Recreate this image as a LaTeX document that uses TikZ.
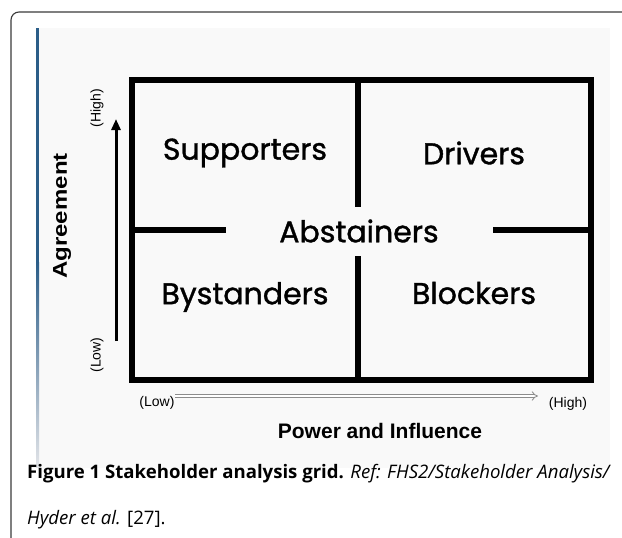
\documentclass[tikz,border=0pt]{standalone}
\usepackage{fontspec}
\setmainfont{Open Sans}
\newfontfamily\arialfont{Liberation Sans}
\newfontfamily\comicfont{Poppins}[FakeBold=1.2]
\usetikzlibrary{arrows.meta}
\definecolor{framegray}{HTML}{3A3A3A}
\definecolor{paperbg}{HTML}{F9F9F9}
\definecolor{barblue}{HTML}{2B5D88}
\definecolor{fadegray}{HTML}{E2E4E8}
\definecolor{arrowgray}{HTML}{8C8C8C}
\newcommand{\gridlabel}[4]{\node[font=\comicfont\fontsize{30}{30}\selectfont,inner sep=0pt] (#1) at ( #2 , #3 ) {#4};}
\newcommand{\axislabel}[5]{\node[font=\arialfont\fontsize{14}{14}\selectfont,rotate=#4,inner sep=0pt] (#1) at ( #2 , #3 ) {#5};}

\begin{document}
\begin{tikzpicture}[x=1pt,y=-1pt]
\useasboundingbox (0,0) rectangle (622,538);
% page frame and figure paper
\draw[framegray,line width=1.1pt,rounded corners=8pt] (11,540) -- (11,12) -- (624,12);
\fill[paperbg] (37,28) rectangle (610,468);
\fill[barblue] (36,28) rectangle (39,262);
\shade[top color=barblue,bottom color=fadegray] (36,262) rectangle (39,467);
% grid
\draw[line width=6.5pt] (132,80) rectangle (591,380);
\draw[line width=6pt] (358,80) -- (358,207);
\draw[line width=6pt] (358,256) -- (358,380);
\draw[line width=6pt] (132,230) -- (226,230);
\draw[line width=6pt] (493,230) -- (591,230);
% quadrant labels
\gridlabel{supporters}{245}{153}{Supporters}
\gridlabel{drivers}{474}{153}{Drivers}
\gridlabel{abstainers}{359}{231}{Abstainers}
\gridlabel{bystanders}{245}{297}{Bystanders}
\gridlabel{blockers}{474}{293}{Blockers}
% vertical axis
\node[font=\arialfont\bfseries\fontsize{20}{20}\selectfont,rotate=90,inner sep=0pt] (agreement) at (62,216) {\scalebox{1.2}[1]{Agreement}};
\axislabel{agreehigh}{97}{108}{90}{(High)}
\axislabel{agreelow}{97}{355}{90}{(Low)}
\coordinate (agreefrom) at (116,341);
\coordinate (agreeto) at (116,119);
\draw[line width=3pt,-{Triangle[length=11pt,width=9pt]}] (agreefrom) -- (agreeto);
% horizontal axis
\axislabel{powerlow}{157}{403}{0}{(Low)}
\axislabel{powerhigh}{568}{404}{0}{(High)}
\coordinate (powerfrom) at (175,396);
\coordinate (powerto) at (538,396);
\draw[arrowgray,double=white,double distance=2.4pt,line width=0.8pt,-{Implies}] (powerfrom) -- (powerto);
\node[font=\arialfont\bfseries\fontsize{21}{21}\selectfont,inner sep=0pt] (power) at (380,431) {Power and Influence};
% caption
\node[anchor=base west,inner sep=0pt,font=\fontsize{18.6}{22}\selectfont] (captionone) at (27,478) {\textbf{Figure 1 Stakeholder analysis grid.} \textit{Ref: FHS2/Stakeholder Analysis/}};
\node[anchor=base west,inner sep=0pt,font=\fontsize{18.6}{22}\selectfont] (captiontwo) at (27,524) {\textit{Hyder et al.} [27].};
\end{tikzpicture}
\end{document}
